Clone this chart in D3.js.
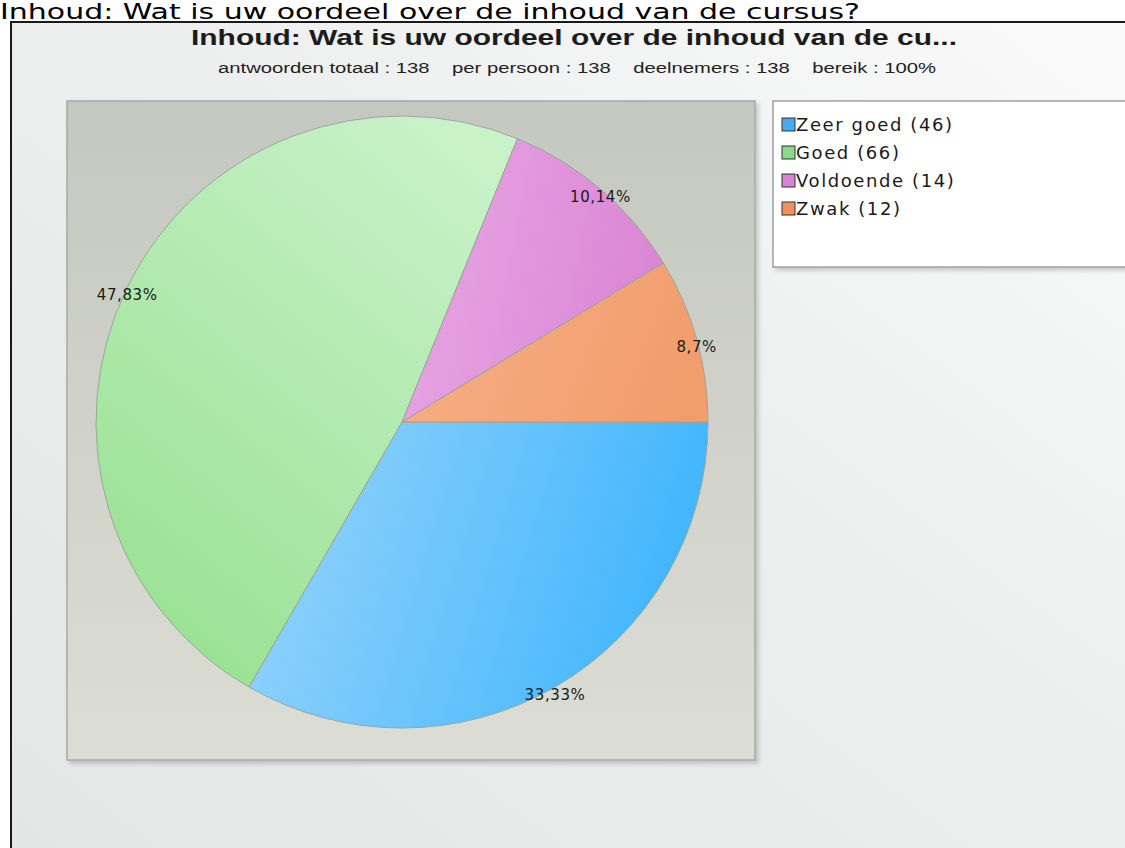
<!DOCTYPE html>
<html>
<head>
<meta charset="utf-8">
<script src="https://cdn.jsdelivr.net/npm/d3@7"></script>
<style>
  body { margin: 0; background: #fff; }
  svg { display: block; }
  text { font-family: "DejaVu Sans", Verdana, sans-serif; }
</style>
</head>
<body>
<svg width="1125" height="848"></svg>
<script>
var categories = ["Zeer goed", "Goed", "Voldoende", "Zwak"];
var counts = [46, 66, 14, 12];
var lightColors = ["#93d3fb", "#c9f2c9", "#e7a6e3", "#f6ae86"];
var darkColors = ["#3db4fc", "#98e192", "#da85d4", "#f29d6c"];
var swatchColors = ["#4aa9ec", "#8bda8b", "#d585d2", "#f0915f"];
var pageTitle = "Inhoud: Wat is uw oordeel over de inhoud van de cursus?";
var chartTitle = "Inhoud: Wat is uw oordeel over de inhoud van de cu...";
var statLabels = ["antwoorden totaal : 138", "per persoon : 138", "deelnemers : 138", "bereik : 100%"];

var svg = d3.select("svg"),
  width = +svg.attr("width"),
  height = +svg.attr("height");

var total = d3.sum(counts);

var data = categories.map(function(c, i) {
  return { name: c, value: counts[i], i: i };
});

var defs = svg.append("defs");

var bg = defs.append("linearGradient")
  .attr("id", "bg")
  .attr("x1", 0).attr("y1", 1).attr("x2", 1).attr("y2", 0);
bg.append("stop").attr("offset", 0).attr("stop-color", "#e3e6e5");
bg.append("stop").attr("offset", 0.6).attr("stop-color", "#eef0ef");
bg.append("stop").attr("offset", 1).attr("stop-color", "#fafafa");

var plotGrad = defs.append("linearGradient")
  .attr("id", "plotbg")
  .attr("x1", 0).attr("y1", 0).attr("x2", 0).attr("y2", 1);
plotGrad.append("stop").attr("offset", 0).attr("stop-color", "#c5c8c0");
plotGrad.append("stop").attr("offset", 1).attr("stop-color", "#dcddd5");

var shadow = defs.append("filter").attr("id", "shadow")
  .attr("x", "-5%").attr("y", "-5%").attr("width", "115%").attr("height", "115%");
shadow.append("feDropShadow")
  .attr("dx", 3).attr("dy", 3).attr("stdDeviation", 2)
  .attr("flood-color", "#000").attr("flood-opacity", 0.18);

// one gradient per slice, lighter on the upper left
data.forEach(function(d) {
  var g = defs.append("linearGradient")
    .attr("id", "slice" + d.i)
    .attr("x1", 0).attr("y1", d.i == 1 ? 0 : 0.3)
    .attr("x2", 1).attr("y2", d.i == 1 ? 1 : 0.5);
  if (d.i == 1) g.attr("x1", 0.8).attr("x2", 0.2);
  g.append("stop").attr("offset", 0).attr("stop-color", lightColors[d.i]);
  g.append("stop").attr("offset", 1).attr("stop-color", darkColors[d.i]);
});

// page heading above the frame
svg.append("text")
  .attr("x", 0)
  .attr("y", 19)
  .attr("textLength", 860)
  .attr("lengthAdjust", "spacingAndGlyphs")
  .style("font-size", "21px")
  .style("fill", "#000")
  .text(pageTitle);

// outer frame
svg.append("rect")
  .attr("x", 11).attr("y", 22)
  .attr("width", width).attr("height", height)
  .attr("fill", "url(#bg)")
  .attr("stroke", "#1a1a1a")
  .attr("stroke-width", 2);

svg.append("text")
  .attr("x", 574)
  .attr("y", 45)
  .attr("text-anchor", "middle")
  .attr("textLength", 766)
  .attr("lengthAdjust", "spacingAndGlyphs")
  .style("font-family", "'Liberation Sans', Arial, sans-serif")
  .style("font-size", "22px")
  .style("font-weight", "bold")
  .style("fill", "#1c1c1c")
  .text(chartTitle);

svg.append("text")
  .attr("x", 577)
  .attr("y", 73)
  .attr("text-anchor", "middle")
  .attr("textLength", 718)
  .attr("lengthAdjust", "spacingAndGlyphs")
  .style("font-family", "'Liberation Sans', Arial, sans-serif")
  .style("font-size", "14px")
  .style("fill", "#222")
  .style("white-space", "pre")
  .text(statLabels.join("    "));

// plot area
var plot = { x: 67, y: 101, w: 688, h: 659 };
svg.append("rect")
  .attr("x", plot.x).attr("y", plot.y)
  .attr("width", plot.w).attr("height", plot.h)
  .attr("fill", "url(#plotbg)")
  .attr("stroke", "#a7a9a5")
  .attr("stroke-width", 1.5)
  .attr("filter", "url(#shadow)");

var cx = 402, cy = 422, radius = 306;

var pie = d3.pie()
  .sort(null)
  .value(function(d) { return d.value; })
  .startAngle(Math.PI / 2)
  .endAngle(Math.PI / 2 + 2 * Math.PI);

var arc = d3.arc().innerRadius(0).outerRadius(radius);
var labelArc = d3.arc().innerRadius(radius).outerRadius(radius);

var arcs = pie(data);

var g = svg.append("g").attr("transform", "translate(" + cx + "," + cy + ")");

g.selectAll("path")
  .data(arcs)
  .enter()
  .append("path")
  .attr("d", arc)
  .attr("fill", function(d) { return "url(#slice" + d.data.i + ")"; })
  .attr("stroke", "#9aa79a")
  .attr("stroke-width", 1);

function pct(v) {
  return String(Math.round(v / total * 10000) / 100).replace(".", ",") + "%";
}

g.selectAll("text.pct")
  .data(arcs)
  .enter()
  .append("text")
  .attr("class", "pct")
  .attr("transform", function(d) {
    var p = labelArc.centroid(d);
    return "translate(" + p[0] + "," + (p[1] + 13) + ")";
  })
  .attr("text-anchor", "middle")
  .style("font-size", "15px")
  .style("letter-spacing", "0.6px")
  .style("fill", "#1a1a1a")
  .text(function(d) { return pct(d.data.value); });

// legend
var legend = svg.append("g");
legend.append("rect")
  .attr("x", 773).attr("y", 101)
  .attr("width", 380).attr("height", 166)
  .attr("fill", "#fff")
  .attr("stroke", "#a0a0a0")
  .attr("stroke-width", 1.5)
  .attr("filter", "url(#shadow)");

var item = legend.selectAll("g.item")
  .data(data)
  .enter()
  .append("g")
  .attr("class", "item")
  .attr("transform", function(d, i) { return "translate(782," + (118 + i * 28) + ")"; });

item.append("rect")
  .attr("width", 13).attr("height", 13)
  .attr("fill", function(d) { return swatchColors[d.i]; })
  .attr("stroke", "#333")
  .attr("stroke-width", 1);

item.append("text")
  .attr("x", 14)
  .attr("y", 13)
  .style("font-size", "18px")
  .style("letter-spacing", "1.6px")
  .style("fill", "#1a1a1a")
  .text(function(d) { return d.name + " (" + d.value + ")"; });
</script>
</body>
</html>
